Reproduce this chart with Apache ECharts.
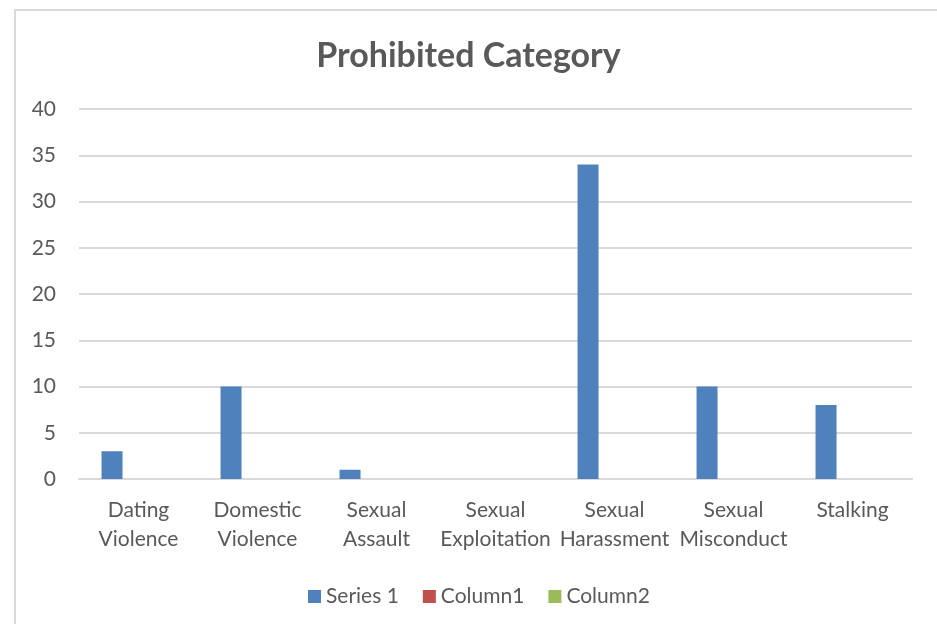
<!DOCTYPE html>
<html>
<head>
<meta charset="utf-8">
<script src="https://cdn.jsdelivr.net/npm/echarts@6/dist/echarts.min.js"></script>
<style>
html,body{margin:0;padding:0;background:#fff;}
#chart{width:937px;height:624px;}
</style>
</head>
<body>
<div id="chart"></div>
<script>
const categories = ["Dating Violence", "Domestic Violence", "Sexual Assault", "Sexual Exploitation", "Sexual Harassment", "Sexual Misconduct", "Stalking"];
const series1 = [3, 10, 1, 0, 34, 10, 8];
const column1 = [null, null, null, null, null, null, null];
const column2 = [null, null, null, null, null, null, null];
const seriesNames = ["Series 1", "Column1", "Column2"];
const yTicks = { min: 0, max: 40, interval: 5 };

const FONT = 'Lato';
const TXT = '#595959';

const chart = echarts.init(document.getElementById('chart'), null, { renderer: 'canvas' });
chart.setOption({
  animation: false,
  backgroundColor: '#ffffff',
  title: {
    text: 'Prohibited Category',
    left: 'center',
    top: 34,
    textStyle: { fontFamily: FONT, fontSize: 34, fontWeight: 'bold', color: TXT }
  },
  graphic: [{
    type: 'polyline',
    shape: { points: [[15, 700], [15, 10], [940, 10]] },
    style: { stroke: '#d9d9d9', lineWidth: 2, fill: null },
    silent: true
  }],
  legend: {
    data: seriesNames,
    left: 303,
    top: 581,
    itemWidth: 13,
    itemHeight: 13,
    itemGap: 24,
    icon: 'rect',
    textStyle: { fontFamily: FONT, fontSize: 21, color: TXT }
  },
  grid: { left: 79, right: 25, top: 109, bottom: 145, containLabel: false },
  xAxis: {
    type: 'category',
    data: categories,
    axisLine: { show: true, lineStyle: { color: '#d9d9d9', width: 2 } },
    axisTick: { show: false },
    axisLabel: {
      interval: 0,
      margin: 17,
      fontFamily: FONT,
      fontSize: 21,
      lineHeight: 29,
      color: TXT,
      formatter: v => v.replace(' ', '\n')
    }
  },
  yAxis: {
    type: 'value',
    min: yTicks.min,
    max: yTicks.max,
    interval: yTicks.interval,
    axisLine: { show: false },
    axisTick: { show: false },
    axisLabel: { margin: 23, fontFamily: FONT, fontSize: 21, color: TXT },
    splitLine: { lineStyle: { color: '#d9d9d9', width: 2 } }
  },
  series: [
    { name: seriesNames[0], type: 'bar', data: series1, barWidth: 21, barGap: '26%', itemStyle: { color: '#4f81bd' } },
    { name: seriesNames[1], type: 'bar', data: column1, barWidth: 21, barGap: '26%', itemStyle: { color: '#c0504d' } },
    { name: seriesNames[2], type: 'bar', data: column2, barWidth: 21, barGap: '26%', itemStyle: { color: '#9bbb59' } }
  ]
});
</script>
</body>
</html>
